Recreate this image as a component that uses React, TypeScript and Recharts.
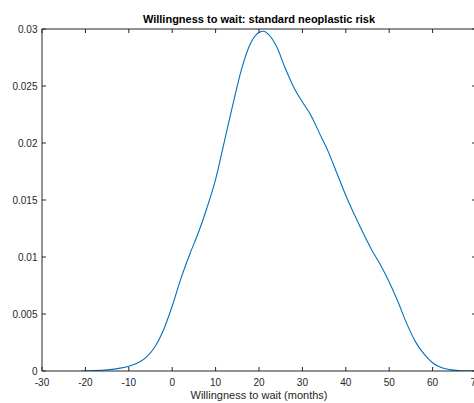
import React from 'react';
import { ComposedChart, Line, XAxis, YAxis } from 'recharts';

const months = [-21, -18, -15, -12, -10, -8, -6, -4, -2, 0, 2, 4, 6, 8, 10, 12, 14, 16, 18, 20, 21, 22, 24, 26, 28, 30, 32, 34, 36, 38, 40, 42, 44, 46, 48, 50, 52, 54, 56, 58, 60, 62, 64, 66, 68, 70];
const density = [0, 0.00003, 0.0001, 0.00025, 0.00042, 0.0007, 0.0012, 0.0021, 0.0036, 0.0057, 0.0081, 0.0102, 0.0121, 0.0143, 0.0168, 0.0201, 0.0234, 0.0265, 0.0287, 0.0297, 0.0298, 0.0296, 0.0285, 0.0266, 0.0249, 0.0236, 0.0224, 0.0208, 0.0192, 0.0173, 0.0154, 0.0137, 0.0121, 0.0106, 0.0093, 0.0078, 0.0061, 0.0042, 0.0026, 0.0015, 0.00072, 0.0003, 0.00012, 0.00004, 0.00001, 0];
const xTicks = [-30, -20, -10, 0, 10, 20, 30, 40, 50, 60, 70];
const yTicks = [0, 0.005, 0.01, 0.015, 0.02, 0.025, 0.03];
const yTickLabels = ['0', '0.005', '0.01', '0.015', '0.02', '0.025', '0.03'];
const title = 'Willingness to wait: standard neoplastic risk';
const xLabel = 'Willingness to wait (months)';

const data = months.map((m, i) => ({ m, d: density[i] }));

const FONT = '"Liberation Sans", Arial, Helvetica, sans-serif';
const INK = '#262626';
const TL = 4;

const BottomTick = (props: any) => {
  const { x, y, payload } = props;
  return (
    <g>
      <line x1={x} x2={x} y1={y} y2={y - TL} stroke={INK} strokeWidth={1} />
      <text x={x} y={y + 15} textAnchor="middle" fontSize={10} fill={INK} fontFamily={FONT}>
        {payload.value}
      </text>
    </g>
  );
};

const TopTick = (props: any) => {
  const { x, y } = props;
  return <line x1={x} x2={x} y1={y} y2={y + TL} stroke={INK} strokeWidth={1} />;
};

const LeftTick = (props: any) => {
  const { x, y, payload } = props;
  const idx = yTicks.indexOf(payload.value);
  return (
    <g>
      <line x1={x} x2={x + TL} y1={y} y2={y} stroke={INK} strokeWidth={1} />
      <text x={x - 4.5} y={y + 3.5} textAnchor="end" fontSize={10} fill={INK} fontFamily={FONT}>
        {idx >= 0 ? yTickLabels[idx] : payload.value}
      </text>
    </g>
  );
};

const RightTick = (props: any) => {
  const { x, y } = props;
  return <line x1={x} x2={x - TL} y1={y} y2={y} stroke={INK} strokeWidth={1} />;
};

export default function App() {
  return (
    <div style={{ position: 'absolute', left: 0, top: 0, width: 474, height: 403, overflow: 'hidden', background: '#fff' }}>
      <ComposedChart width={480} height={403} data={data} margin={{ top: 28, right: 3, bottom: 0, left: 0 }}>
        <XAxis
          dataKey="m"
          type="number"
          domain={[-30, 70]}
          ticks={xTicks}
          interval={0}
          height={32}
          tickSize={0}
          tickMargin={0}
          tickLine={false}
          axisLine={{ stroke: INK, strokeWidth: 1 }}
          tick={<BottomTick />}
          allowDataOverflow
        />
        <XAxis
          xAxisId="top"
          orientation="top"
          dataKey="m"
          type="number"
          domain={[-30, 70]}
          ticks={xTicks}
          interval={0}
          height={1}
          tickSize={0}
          tickMargin={0}
          tickLine={false}
          axisLine={{ stroke: INK, strokeWidth: 1 }}
          tick={<TopTick />}
          allowDataOverflow
        />
        <YAxis
          type="number"
          domain={[0, 0.03]}
          ticks={yTicks}
          interval={0}
          width={42}
          tickSize={0}
          tickMargin={0}
          tickLine={false}
          axisLine={{ stroke: INK, strokeWidth: 1 }}
          tick={<LeftTick />}
          allowDataOverflow
        />
        <YAxis
          yAxisId="right"
          orientation="right"
          type="number"
          domain={[0, 0.03]}
          ticks={yTicks}
          interval={0}
          width={1}
          tickSize={0}
          tickMargin={0}
          tickLine={false}
          axisLine={{ stroke: INK, strokeWidth: 1 }}
          tick={<RightTick />}
          allowDataOverflow
        />
        <Line
          xAxisId="top"
          yAxisId="right"
          type="monotone"
          dataKey="d"
          stroke="none"
          strokeWidth={0}
          dot={false}
          activeDot={false}
          legendType="none"
          isAnimationActive={false}
        />
        <Line
          type="monotone"
          dataKey="d"
          stroke="#0072BD"
          strokeWidth={1.1}
          dot={false}
          activeDot={false}
          isAnimationActive={false}
        />
      </ComposedChart>
      <svg width={474} height={403} style={{ position: 'absolute', left: 0, top: 0, pointerEvents: 'none' }}>
        <text x={259} y={23} textAnchor="middle" fontSize={11} fontWeight="bold" fill="#000" fontFamily={FONT}>
          {title}
        </text>
        <text x={259} y={399} textAnchor="middle" fontSize={11} fill={INK} fontFamily={FONT}>
          {xLabel}
        </text>
      </svg>
    </div>
  );
}
